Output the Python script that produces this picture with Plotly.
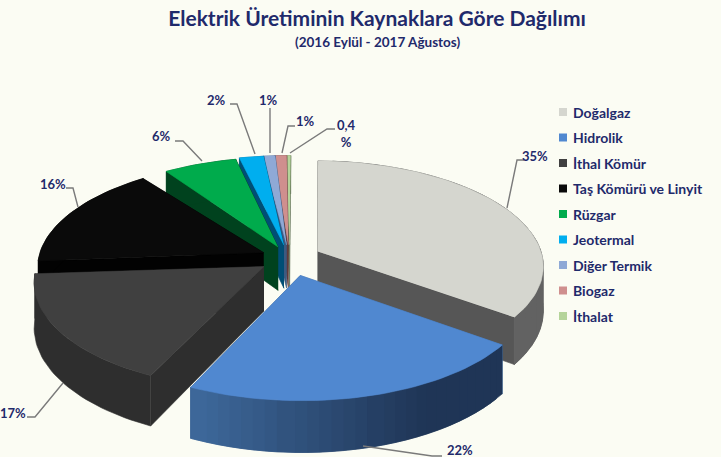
import math
import plotly.graph_objects as go

# ---- data ----
categories = ["Doğalgaz", "Hidrolik", "İthal Kömür", "Taş Kömürü ve Linyit", "Rüzgar",
              "Jeotermal", "Diğer Termik", "Biogaz", "İthalat"]
values = [35, 22, 17, 16, 6, 2, 1, 1, 0.4]
value_labels = ["35%", "22%", "17%", "16%", "6%", "2%", "1%", "1%", "0,4<br>%"]

# ---- style ----
top_colors = ["#d5d6cf", "#5088d0", "#404040", "#0a0a0a", "#00ab4c", "#00aeef", "#8fa9d6", "#cf8f8e", "#b5d49a"]
wall_left = ["#565656", "#3f6b9e", "#2e2e2e", "#020202", "#00421e", "#004e75", "#3d5a80", "#5e3a3a", "#55664a"]
wall_right = ["#626262", "#1f3556", "#2e2e2e", "#020202", "#00421e", "#004e75", "#3d5a80", "#5e3a3a", "#55664a"]
explode = [0.14, 0.17, 0.14, 0.13, 0.12, 0.13, 0.13, 0.13, 0.13]
view_turn_deg = [1, 0.7, 0.8, 0, 3, 2.5, 1.6, 0.9, 0.3]  # apparent angular shift caused by the 3D view
draw_order = [8, 7, 6, 5, 4, 3, 2, 0, 1]
BG = "#fbfcf3"
NAVY = "#1f2a6b"
FONT = "Lato"
CX, CY, RX, RY, PERSP, DEPTH = 290, 258, 225, 104, 0.13, 44

label_xy = [(535, 156), (460, 450), (13, 413), (53, 184), (161, 136), (216, 100), (268, 100), (305, 121), (346, 133)]
leaders = [
    [(507, 208), (517, 160), (524, 160)],
    [(363, 446), (432, 456), (442, 456)],
    [(63, 383), (35, 417), (27, 417)],
    [(78, 207), (73, 188), (66, 188)],
    [(202, 161), (183, 141), (175, 141)],
    [(255, 154), (237, 104), (230, 104)],
    [(270, 153), (270, 108)],
    [(282, 153), (288, 126), (295, 126)],
    [(290, 153), (327, 129), (335, 129)],
]
legend_y0, legend_step, legend_mx, legend_tx = 112, 25.5, 563, 572


def project(X, Y, z=0.0):
    s = 1 / (1 - PERSP * Y)
    return CX + s * RX * X, CY + s * RY * Y + s * z * DEPTH


def mix(a, b, t):
    ca = [int(a[i:i + 2], 16) for i in (1, 3, 5)]
    cb = [int(b[i:i + 2], 16) for i in (1, 3, 5)]
    return "#%02x%02x%02x" % tuple(round(p + (q - p) * t) for p, q in zip(ca, cb))


def polygon(fig, pts, color):
    fig.add_trace(go.Scatter(x=[p[0] for p in pts], y=[p[1] for p in pts], mode="lines", fill="toself",
                             fillcolor=color, line=dict(color=color, width=0.6), hoverinfo="skip", showlegend=False))


fig = go.Figure()
total = sum(values)
edges = [0.0]
for v in values:
    edges.append(edges[-1] + v / total * 2 * math.pi)


def rim(i, a):
    m = (edges[i] + edges[i + 1]) / 2
    return explode[i] * math.sin(m) + math.sin(a), -explode[i] * math.cos(m) - math.cos(a)


for i in draw_order:
    m = (edges[i] + edges[i + 1]) / 2
    ax, ay = explode[i] * math.sin(m), -explode[i] * math.cos(m)
    turn = math.radians(view_turn_deg[i])
    a0, a1 = edges[i] + turn, edges[i + 1] + turn
    n = max(4, int((a1 - a0) / 0.03))
    angles = [a0 + (a1 - a0) * k / n for k in range(n + 1)]
    # radial faces
    for a in (a1, a0):
        rx_, ry_ = rim(i, a)
        polygon(fig, [project(ax, ay), project(rx_, ry_), project(rx_, ry_, 1), project(ax, ay, 1)], wall_left[i])
    # outer wall: overlapping bands so that no seams show
    if wall_left[i] == wall_right[i]:
        arc = [project(*rim(i, a)) for a in angles]
        low = [project(*rim(i, a), 1) for a in reversed(angles)]
        polygon(fig, arc + low, wall_left[i])
    else:
        bands = 28
        for k in range(bands):
            b = [a0 + (a1 - a0) * j / 60 for j in range(k * 60 // bands, min(60, (k + 2) * 60 // bands) + 1)]
            xmid = project(*rim(i, b[0]))[0]
            t = min(1, max(0, (xmid - 190) / 240))
            polygon(fig, [project(*rim(i, a)) for a in b] + [project(*rim(i, a), 1) for a in reversed(b)],
                    mix(wall_left[i], wall_right[i], t))
    # top face
    top = [project(ax, ay)] + [project(*rim(i, a)) for a in angles]
    polygon(fig, top, top_colors[i])

# leader lines
for line in leaders:
    fig.add_trace(go.Scatter(x=[p[0] for p in line], y=[p[1] for p in line], mode="lines",
                             line=dict(color="#7a7a7a", width=1.4), hoverinfo="skip", showlegend=False))

# legend built from the categories
fig.add_trace(go.Scatter(x=[legend_mx] * len(categories), y=[legend_y0 + legend_step * k for k in range(len(categories))],
                         mode="markers", marker=dict(symbol="square", size=8, color=top_colors),
                         hoverinfo="skip", showlegend=False))
annotations = []
for k, c in enumerate(categories):
    annotations.append(dict(x=legend_tx, y=legend_y0 + legend_step * k, xref="x", yref="y", text=f"<b>{c}</b>",
                            showarrow=False, xanchor="left", yanchor="middle", xshift=-1,
                            font=dict(family=FONT, size=14, color=NAVY)))
for t, (x, y) in zip(value_labels, label_xy):
    annotations.append(dict(x=x, y=y, xref="x", yref="y", text=f"<b>{t}</b>", showarrow=False,
                            font=dict(family=FONT, size=13, color=NAVY), align="center",
                            xanchor="center", yanchor="middle"))
annotations.append(dict(x=377, y=42, xref="x", yref="y", text="<b>(2016 Eylül - 2017 Ağustos)</b>", showarrow=False,
                        font=dict(family=FONT, size=13.5, color=NAVY), xanchor="center", yanchor="middle"))

fig.update_layout(
    width=721, height=457, margin=dict(l=0, r=0, t=0, b=0), autosize=False,
    paper_bgcolor=BG, plot_bgcolor=BG, showlegend=False,
    title=dict(text="<b>Elektrik Üretiminin Kaynaklara Göre Dağılımı</b>", x=377 / 721, xanchor="center",
               y=1 - 19 / 457, yanchor="middle", font=dict(family=FONT, size=21, color=NAVY)),
    xaxis=dict(range=[0, 721], visible=False, fixedrange=True),
    yaxis=dict(range=[457, 0], visible=False, fixedrange=True),
    annotations=annotations,
)
fig.write_html("out.html", config=dict(displayModeBar=False),
               post_script="document.body.style.margin='0';document.body.style.overflow='hidden';")
